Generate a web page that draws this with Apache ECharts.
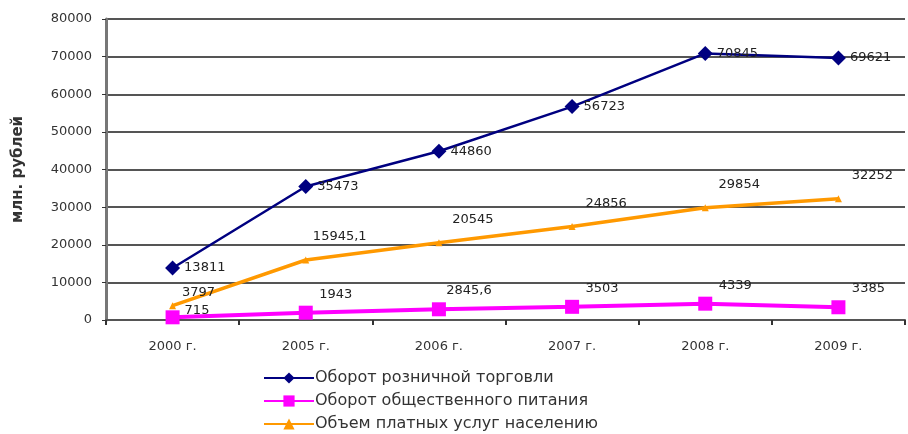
<!DOCTYPE html>
<html>
<head>
<meta charset="utf-8">
<script src="https://cdn.jsdelivr.net/npm/echarts@6/dist/echarts.min.js"></script>
<style>html,body{margin:0;padding:0;background:#fff}#c{width:908px;height:434px}</style>
</head>
<body>
<div id="c"></div>
<script>
var categories = ['2000 г.', '2005 г.', '2006 г.', '2007 г.', '2008 г.', '2009 г.'];
var retail = [13811, 35473, 44860, 56723, 70845, 69621];
var catering = [715, 1943, 2845.6, 3503, 4339, 3385];
var services = [3797, 15945.1, 20545, 24856, 29854, 32252];
var seriesNames = ['Оборот розничной торговли', 'Оборот общественного питания', 'Объем платных услуг населению'];
var yName = 'млн. рублей';

function fmt(v) { return String(v).replace('.', ','); }
var font = 'DejaVu Sans, Verdana, sans-serif';
var lbl = { fontFamily: font, fontSize: 13, color: '#222', formatter: function (p) { return fmt(p.value); } };

var cateringData = catering.map(function (v, i) {
  return i === 0 ? { value: v, label: { position: 'right', offset: [0, -7] } } : v;
});
var servicesData = services.map(function (v, i) {
  return i === 0 ? { value: v, label: { offset: [26, 2] } } : v;
});

var chart = echarts.init(document.getElementById('c'));
chart.setOption({
  animation: false,
  backgroundColor: '#fff',
  grid: { left: 106, right: 3, top: 19, bottom: 114 },
  legend: {
    orient: 'vertical', left: 258, top: 365, height: 80, itemGap: 7, itemWidth: 50, itemHeight: 14,
    textStyle: { fontFamily: font, fontSize: 16, color: '#333', padding: [0, 0, 0, -4] },
    data: seriesNames
  },
  xAxis: {
    type: 'category', data: categories, boundaryGap: true,
    axisLine: { lineStyle: { color: '#555', width: 2 } },
    axisTick: { show: true, lineStyle: { color: '#333', width: 2 }, length: 5 },
    axisLabel: { fontFamily: font, fontSize: 13, color: '#333', margin: 20 }
  },
  yAxis: {
    type: 'value', min: 0, max: 80000, interval: 10000,
    name: yName, nameLocation: 'middle', nameGap: 80, nameRotate: 90,
    nameTextStyle: { fontFamily: font, fontSize: 15, fontWeight: 'bold', color: '#333' },
    axisLine: { show: true, lineStyle: { color: '#777', width: 3 } },
    axisTick: { show: true, lineStyle: { color: '#333' }, length: 4 },
    splitLine: { lineStyle: { color: '#555', width: 2 } },
    axisLabel: { fontFamily: font, fontSize: 13, color: '#333', margin: 14, formatter: function (v) { return String(v); } }
  },
  series: [
    {
      name: seriesNames[0], type: 'line', data: retail,
      symbol: 'diamond', symbolSize: 15,
      lineStyle: { color: '#000080', width: 2.5 }, itemStyle: { color: '#000080' },
      label: Object.assign({ show: true, position: 'right', distance: 4 }, lbl)
    },
    {
      name: seriesNames[1], type: 'line', data: cateringData,
      symbol: 'rect', symbolSize: 14,
      lineStyle: { color: '#ff00ff', width: 4 }, itemStyle: { color: '#ff00ff' },
      label: Object.assign({ show: true, position: 'top', offset: [30, 0] }, lbl)
    },
    {
      name: seriesNames[2], type: 'line', data: servicesData,
      symbol: 'triangle', symbolSize: 7,
      lineStyle: { color: '#ff9900', width: 3.5 }, itemStyle: { color: '#ff9900' },
      label: Object.assign({ show: true, position: 'top', offset: [34, -8] }, lbl)
    }
  ]
});
</script>
</body>
</html>
